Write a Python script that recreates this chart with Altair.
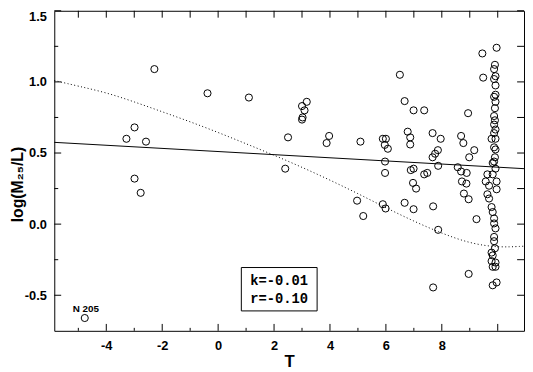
import altair as alt
import pandas as pd

# ---- data ----
t_vals = [-2.28, -2.99, -3.28, -2.58, -2.99, -2.77, -4.77, -0.38, 1.10, 3.17,
          3.00, 3.09, 3.02, 3.00, 2.50, 2.40, 3.97, 3.88, 5.09, 6.50,
          6.67, 6.99, 7.37, 5.89, 6.00, 5.96, 6.07, 6.78, 6.87, 6.87,
          7.67, 7.96, 7.86, 7.76, 7.67, 7.87, 5.97, 5.97, 6.89, 6.99,
          7.37, 7.48, 6.97, 7.08, 4.97, 5.19, 5.89, 5.99, 6.67, 6.99,
          7.69, 7.87, 7.69,
          9.45, 9.48, 8.94, 8.69, 8.77, 9.16, 8.98, 8.57, 8.69, 8.89,
          8.72, 8.88, 8.79, 8.96, 9.24, 8.96,
          9.96, 9.90, 9.87, 9.92, 9.87, 9.92, 9.92, 9.87, 9.92, 9.90,
          9.87, 9.90, 9.87, 9.92, 9.87, 9.78, 9.92, 9.87, 9.92, 9.90,
          9.87, 9.92, 9.82, 9.63, 9.82, 9.57, 9.96, 9.69, 9.96, 9.63,
          9.69, 9.78, 9.82, 9.87, 9.87, 9.92, 9.87, 9.87, 9.90, 9.78,
          9.82, 9.78, 9.92, 9.82, 9.92, 9.82, 9.96]
ml_vals = [1.09, 0.68, 0.60, 0.58, 0.32, 0.22, -0.66, 0.92, 0.89, 0.86,
           0.83, 0.80, 0.75, 0.735, 0.61, 0.39, 0.62, 0.57, 0.58, 1.05,
           0.865, 0.80, 0.80, 0.60, 0.60, 0.557, 0.53, 0.65, 0.61, 0.56,
           0.64, 0.60, 0.52, 0.495, 0.47, 0.41, 0.44, 0.36, 0.38, 0.39,
           0.35, 0.36, 0.29, 0.25, 0.165, 0.057, 0.14, 0.11, 0.15, 0.105,
           0.125, -0.04, -0.445,
           1.20, 1.03, 0.78, 0.62, 0.57, 0.52, 0.47, 0.40, 0.37, 0.36,
           0.30, 0.285, 0.215, 0.175, 0.035, -0.35,
           1.24, 1.12, 1.09, 1.04, 1.02, 0.975, 0.91, 0.895, 0.86, 0.815,
           0.76, 0.73, 0.70, 0.665, 0.64, 0.60, 0.60, 0.54, 0.525, 0.47,
           0.44, 0.39, 0.43, 0.35, 0.35, 0.30, 0.30, 0.27, 0.245, 0.21,
           0.18, 0.12, 0.085, 0.04, 0.005, -0.03, -0.09, -0.12, -0.17, -0.20,
           -0.22, -0.26, -0.27, -0.30, -0.30, -0.43, -0.41]

fit_t = [-5.86, 10.94]
fit_ml = [0.575, 0.39]

curve_t = [-5.86, -5, -4, -3, -2, -1, 0, 1, 2, 3, 4, 5, 6, 7, 8, 9, 10, 10.94]
curve_ml = [1.01, 0.97, 0.925, 0.86, 0.79, 0.72, 0.645, 0.565, 0.485, 0.40,
            0.31, 0.215, 0.115, 0.02, -0.065, -0.135, -0.165, -0.155]

x_labels = [-4, -2, 0, 2, 4, 6, 8]
x_major = [-4, -2, 0, 2, 4, 6, 8, 10]
x_minor = [-5, -3, -1, 1, 3, 5, 7, 9]
y_major = [-0.5, 0.0, 0.5, 1.0, 1.5]
y_minor = [-0.25, 0.25, 0.75, 1.25]

note_name = ["N 205"]
note_t = [-4.73]
note_ml = [-0.60]

stats_text = ["k=-0.01", "r=-0.10"]
stats_t = [2.18, 2.18]
stats_ml = [-0.40, -0.53]
box_t = [0.83, 3.54]
box_ml = [-0.305, -0.61]

# ---- chart ----
W, H = 477, 325
FONT = "Liberation Sans"
xs = alt.Scale(domain=[-5.86, 10.94], nice=False, zero=False)
ys = alt.Scale(domain=[-0.75, 1.5], nice=False, zero=False)

xaxis = alt.Axis(values=x_labels, ticks=False, tickSize=0, domain=False, grid=False,
                 labelFont=FONT, labelFontWeight="bold", labelFontSize=13,
                 labelColor="black", labelPadding=9,
                 labelExpr="replace(format(datum.value, 'd'), '\u2212', '-')",
                 titleFont=FONT, titleFontSize=17, titleFontWeight="bold",
                 titleColor="black", titleY=23, titleBaseline="top")
yaxis = alt.Axis(values=y_major, ticks=False, tickSize=0, domain=False, grid=False,
                 labelFont=FONT, labelFontWeight="bold", labelFontSize=13,
                 labelColor="black", labelPadding=8,
                 labelFlush=True, labelFlushOffset=0,
                 labelExpr="replace(format(datum.value, '.1f'), '\u2212', '-')",
                 titleFont=FONT, titleFontSize=16, titleFontWeight="bold",
                 titleColor="black", titleX=-37, titleY=176, titleBaseline="middle")


def X(field):
    return alt.X(field, type="quantitative", scale=xs, axis=xaxis, title="T")


def Y(field):
    return alt.Y(field, type="quantitative", scale=ys, axis=yaxis, title="log(M\u2082\u2085/L)")


pts = pd.DataFrame({"T": t_vals, "ML": ml_vals})
points = alt.Chart(pts).mark_point(shape="circle", filled=False, color="black",
                                   size=52, strokeWidth=1, opacity=1).encode(
    x=X("T"), y=Y("ML"))

fit = alt.Chart(pd.DataFrame({"T": fit_t, "ML": fit_ml})).mark_line(
    color="black", strokeWidth=1).encode(x=X("T"), y=Y("ML"))

curve = alt.Chart(pd.DataFrame({"T": curve_t, "ML": curve_ml})).mark_line(
    color="black", strokeWidth=1, strokeDash=[1, 2.5], interpolate="basis").encode(
    x=X("T"), y=Y("ML"))

xmaj = pd.DataFrame({"T": x_major})
xmin = pd.DataFrame({"T": x_minor})
xall = pd.DataFrame({"T": x_major + x_minor})
ymaj = pd.DataFrame({"ML": y_major})
ymin = pd.DataFrame({"ML": y_minor})
yall = pd.DataFrame({"ML": y_major + y_minor})

rule = dict(color="black", strokeWidth=1)
bt_major = alt.Chart(xmaj).mark_rule(**rule).encode(x=X("T"), y=alt.value(H), y2=alt.value(H - 7))
bt_minor = alt.Chart(xmin).mark_rule(**rule).encode(x=X("T"), y=alt.value(H), y2=alt.value(H - 3))
top_t = alt.Chart(xall).mark_rule(**rule).encode(x=X("T"), y=alt.value(0), y2=alt.value(7))
lt_major = alt.Chart(ymaj).mark_rule(**rule).encode(y=Y("ML"), x=alt.value(0), x2=alt.value(7))
lt_minor = alt.Chart(ymin).mark_rule(**rule).encode(y=Y("ML"), x=alt.value(0), x2=alt.value(4))
rt_t = alt.Chart(yall).mark_rule(**rule).encode(y=Y("ML"), x=alt.value(W), x2=alt.value(W - 7))

note = alt.Chart(pd.DataFrame({"T": note_t, "ML": note_ml, "txt": note_name})).mark_text(
    font=FONT, fontSize=10, fontWeight="bold", color="black").encode(
    x=X("T"), y=Y("ML"), text="txt:N")

box = alt.Chart(pd.DataFrame({"T": [box_t[0]], "T2": [box_t[1]],
                              "ML": [box_ml[0]], "ML2": [box_ml[1]]})).mark_rect(
    fill="white", stroke="black", strokeWidth=1).encode(
    x=X("T"), x2="T2", y=Y("ML"), y2="ML2")

stats = alt.Chart(pd.DataFrame({"T": stats_t, "ML": stats_ml, "txt": stats_text})).mark_text(
    font="Liberation Mono", fontSize=14, fontWeight="bold", color="black").encode(
    x=X("T"), y=Y("ML"), text="txt:N")

chart = alt.layer(points, fit, curve, bt_major, bt_minor, top_t, lt_major, lt_minor,
                  rt_t, note, box, stats).properties(
    width=W, height=H,
    autosize=alt.AutoSizeParams(type="none"),
    padding={"left": 47, "top": 0, "right": 1, "bottom": 39},
    background="white",
).configure_view(stroke="black", strokeWidth=1)

chart.save("out.html", embed_options={"renderer": "svg", "actions": False})
